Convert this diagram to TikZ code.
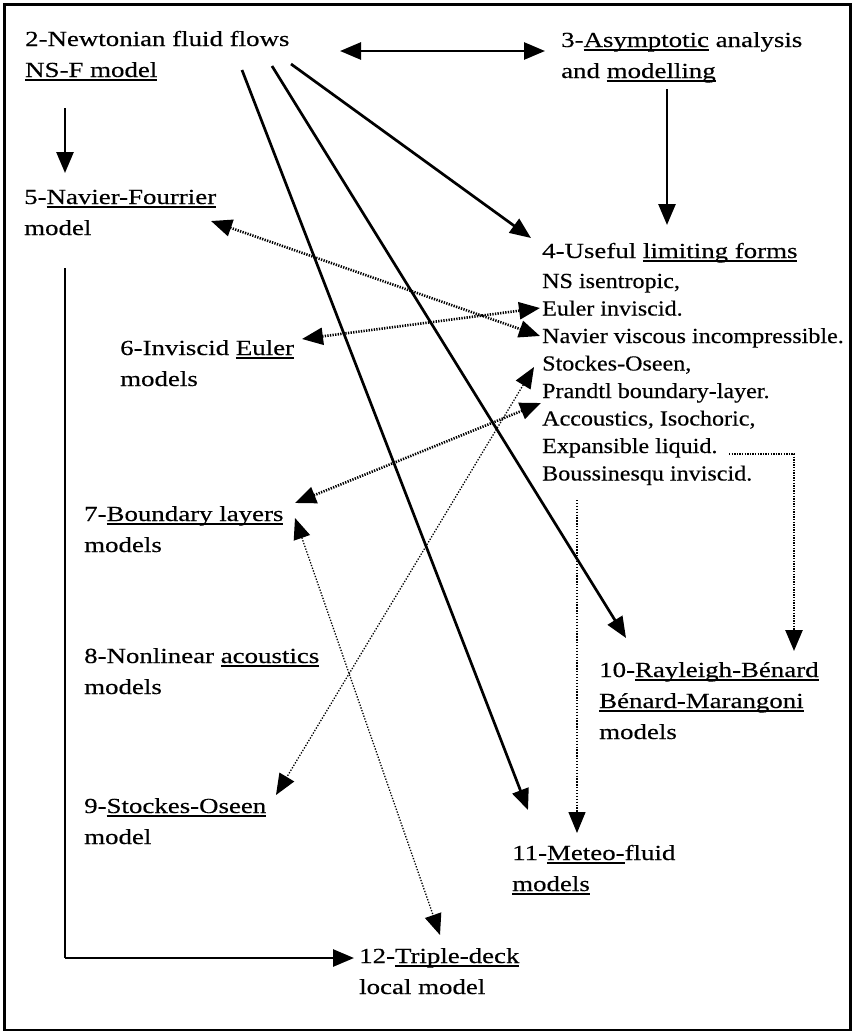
\documentclass[tikz,border=0pt]{standalone}
\usepackage{fontspec}
\setmainfont{Liberation Serif}
\newfontfamily\hdfont[FakeStretch=1.25,FakeBold=0.35]{Liberation Serif}
\newfontfamily\lsfont[FakeStretch=1.12,FakeBold=0.35]{Liberation Serif}
\usetikzlibrary{arrows.meta}
% underline at a fixed depth below the baseline
\newcommand\uln[1]{\leavevmode\setbox0\hbox{#1}\rlap{\rule[-3.6pt]{\wd0}{1.4pt}}\box0\relax}
\begin{document}
\begin{tikzpicture}[x=1pt,y=-1pt,
  >={Triangle[length=21pt,width=17pt]},
  hd/.style={anchor=base west, inner sep=0pt, align=left, font=\fontsize{21.5}{31}\hdfont},
  lst/.style={anchor=base west, inner sep=0pt, align=left, font=\fontsize{21.5}{27.5}\lsfont},
  solidarrow/.style={line width=2.7pt},
  thinsolid/.style={line width=1.6pt},
  thickdots/.style={line width=2.6pt, dash pattern=on 1.3pt off 1.3pt},
  thindots/.style={line width=1.3pt, dash pattern=on 1.3pt off 1.6pt}]
\useasboundingbox (0,0) rectangle (854,1034);
\draw[line width=2.2pt] (4.5,4.5) rectangle (850.5,1030);

% boxes of text (each placed by the baseline of its last line)
\node[hd] (n2) at (25,77) {2-Newtonian fluid flows\\\uln{NS-F model}};
\node[hd] (n3) at (561,78) {3-\uln{Asymptotic} analysis\\and \uln{modelling}};
\node[hd] (n5) at (24,235) {5-\uln{Navier-Fourrier}\\model};
\node[lst] (n4) at (542,480.5) {{\hdfont 4-Useful \uln{limiting forms}}\\[2.5pt]
  NS isentropic,\\
  Euler inviscid.\\
  Navier viscous incompressible.\\
  Stockes-Oseen,\\
  Prandtl boundary-layer.\\
  Accoustics, Isochoric,\\
  Expansible liquid.\\
  Boussinesqu inviscid.};
\node[hd] (n6) at (120,386) {6-Inviscid \uln{Euler}\\models};
\node[hd] (n7) at (84,552) {7-\uln{Boundary layers}\\models};
\node[hd] (n8) at (84,694) {8-Nonlinear \uln{acoustics}\\models};
\node[hd] (n9) at (84,844) {9-\uln{Stockes-Oseen}\\model};
\node[hd] (n10) at (599,739) {10-\uln{Rayleigh-Bénard}\\\uln{Bénard-Marangoni}\\models};
\node[hd] (n11) at (512,891) {11-\uln{Meteo-}fluid\\\uln{models}};
\node[hd] (n12) at (359,994) {12-\uln{Triple-deck}\\local model};

% connector end points
\coordinate (a23l) at (340,51);   \coordinate (a23r) at (545,51);
\coordinate (a25t) at (65,108);   \coordinate (a25b) at (65,173);
\coordinate (a34t) at (667,89);   \coordinate (a34b) at (667,225);
\coordinate (a24s) at (291,64);   \coordinate (a24e) at (531,238);
\coordinate (a211s) at (242,70);  \coordinate (a211e) at (528,810);
\coordinate (a210s) at (272,66);  \coordinate (a210e) at (626,638);
\coordinate (a512s) at (65,268);  \coordinate (a512c) at (65,958);  \coordinate (a512e) at (354,958);
\coordinate (d54a) at (211,221);  \coordinate (d54b) at (540,336);
\coordinate (d64a) at (302,339);  \coordinate (d64b) at (540,308);
\coordinate (d94a) at (534,367);  \coordinate (d94b) at (276,795);
\coordinate (d74a) at (541,403);  \coordinate (d74b) at (295,503);
\coordinate (d712a) at (295,518); \coordinate (d712b) at (440,935);
\coordinate (d411s) at (577,500); \coordinate (d411e) at (577,833);
\coordinate (d410s) at (729,454); \coordinate (d410c) at (794,454); \coordinate (d410e) at (794,651);

% solid connectors
\draw[solidarrow,<->] (a23l) -- (a23r);
\draw[solidarrow,->] (a25t) -- (a25b);
\draw[solidarrow,->] (a34t) -- (a34b);
\draw[solidarrow,->] (a24s) -- (a24e);
\draw[solidarrow,->] (a211s) -- (a211e);
\draw[solidarrow,->] (a210s) -- (a210e);
\draw[thinsolid] (a512s) -- (a512c);
\draw[solidarrow,->] (a512c) -- (a512e);

% dotted connectors
\draw[thickdots,<->] (d54a) -- (d54b);
\draw[thickdots,<->] (d64a) -- (d64b);
\draw[thindots,<->] (d94a) -- (d94b);
\draw[thickdots,<->] (d74a) -- (d74b);
\draw[thindots,<->] (d712a) -- (d712b);
\draw[thindots,->] (d411s) -- (d411e);
\draw[thickdots,->] (d410s) -- (d410c) -- (d410e);
\end{tikzpicture}
\end{document}
